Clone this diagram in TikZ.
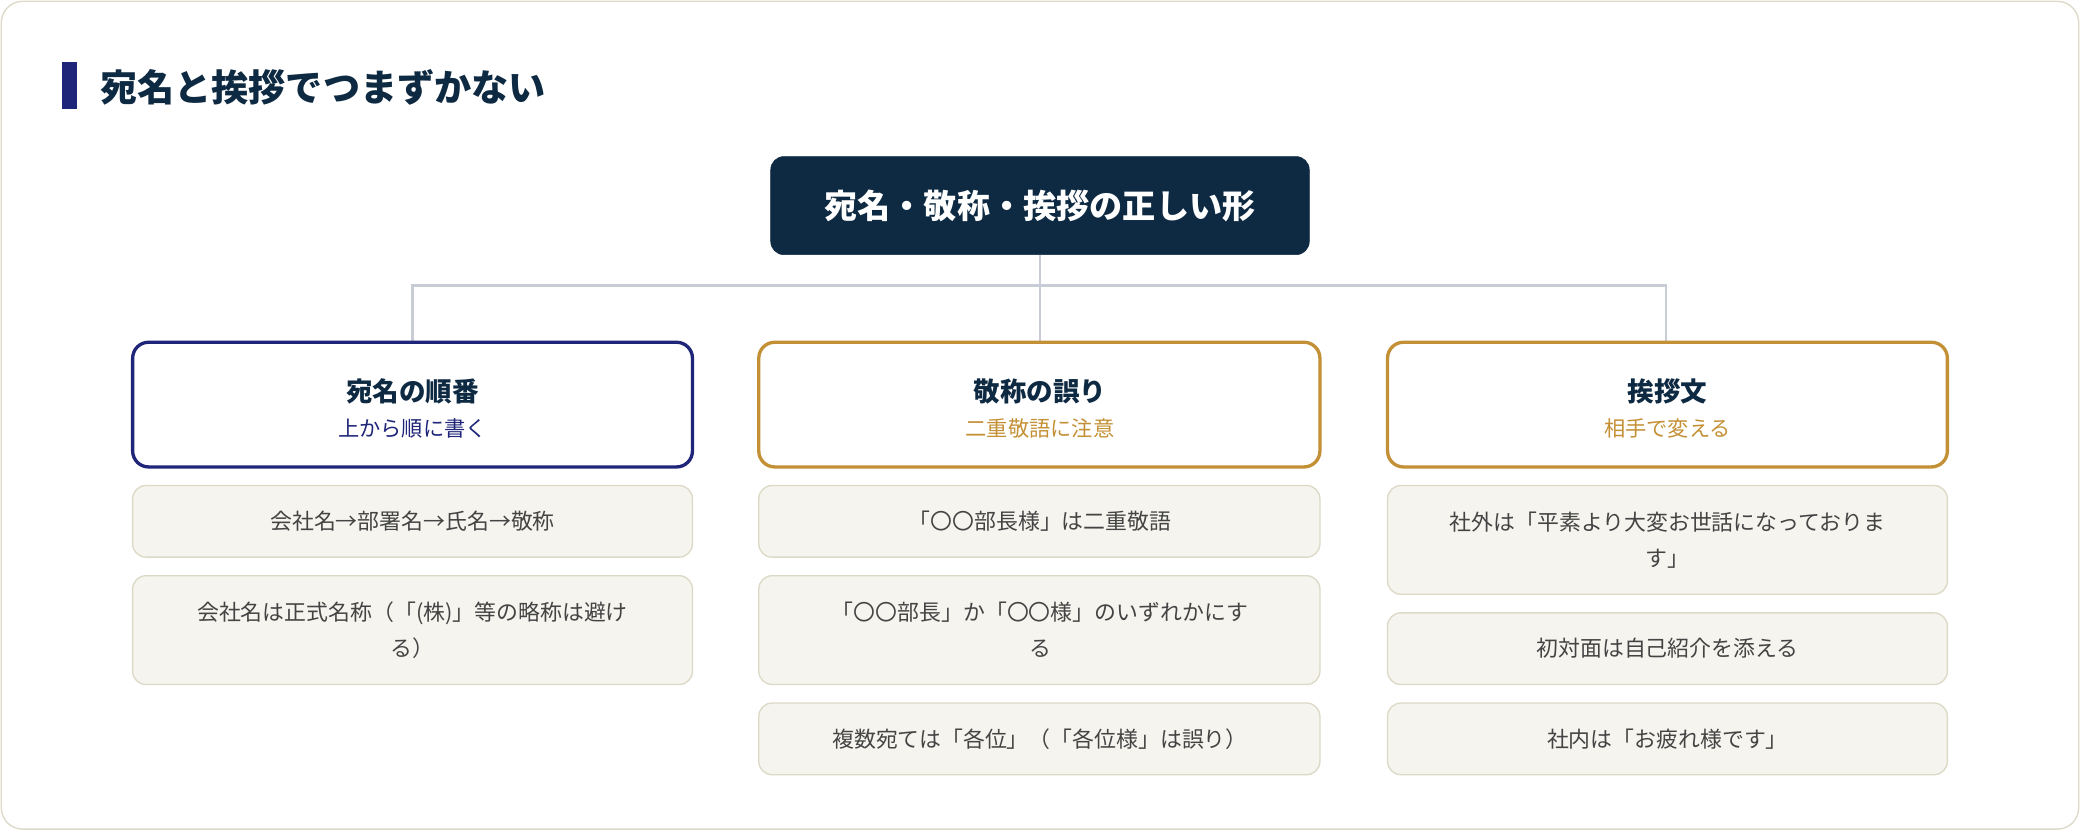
\documentclass[tikz,border=0pt]{standalone}
\usepackage{fontspec}
\setmainfont{Noto Sans CJK JP}
\newfontfamily\jpb{Noto Sans CJK JP}[BoldFont={* Bold}]
\definecolor{navy}{HTML}{1F2578}
\definecolor{dark}{HTML}{0E2A42}
\definecolor{gold}{HTML}{C49035}
\definecolor{itemfill}{HTML}{F5F4EE}
\definecolor{itemline}{HTML}{DCD9C6}
\definecolor{conn}{HTML}{C8CCD4}
\definecolor{txt}{HTML}{444444}
\begin{document}
\begin{tikzpicture}[x=1pt,y=-1pt,
  hdr/.style={draw=#1,line width=2.5pt,rounded corners=12pt,fill=white},
  item/.style={draw=itemline,line width=1pt,rounded corners=10pt,fill=itemfill},
  itxt/.style={text=txt,font=\fontsize{16.5}{27}\selectfont,align=center},
  htit/.style={text=dark,font=\fontsize{20}{24}\selectfont\bfseries},
  hsub/.style={font=\fontsize{16}{20}\selectfont}]
\useasboundingbox (0,0) rectangle (1568,626);
\draw[itemline,line width=1pt,fill=white,rounded corners=16pt] (1,1) rectangle (1567,625);
\fill[navy] (47,47) rectangle (58,82);
\node[anchor=west,text=dark,font=\fontsize{28}{32}\selectfont\bfseries] (title) at (72,66) {宛名と挨拶でつまずかない};
% root
\draw[fill=dark,draw=dark,rounded corners=10pt] (581,118) rectangle (987,192);
\node[text=white,font=\fontsize{25}{30}\selectfont\bfseries] (root) at (784,155) {宛名・敬称・挨拶の正しい形};
\coordinate (rb) at (784,192);
\coordinate (j) at (784,215);
\coordinate (h1) at (311,258);
\coordinate (h2) at (784,258);
\coordinate (h3) at (1256,258);
\draw[conn,line width=2pt] (rb) -- (j);
\draw[conn,line width=2pt] (h1) |- (j) -| (h3);
\draw[conn,line width=2pt] (j) -- (h2);
% headers
\draw[hdr=navy] (100,258) rectangle (522,352);
\node[htit] (t1) at (311,295) {宛名の順番};
\node[hsub,text=navy] (s1) at (311,323) {上から順に書く};
\draw[hdr=gold] (572,258) rectangle (995,352);
\node[htit] (t2) at (784,295) {敬称の誤り};
\node[hsub,text=gold] (s2) at (784,323) {二重敬語に注意};
\draw[hdr=gold] (1046,258) rectangle (1468,352);
\node[htit] (t3) at (1257,295) {挨拶文};
\node[hsub,text=gold] (s3) at (1257,323) {相手で変える};
% col1
\draw[item] (100,366) rectangle (522,420);
\node[itxt] (a1) at (311,393) {会社名→部署名→氏名→敬称};
\draw[item] (100,434) rectangle (522,516);
\node[itxt] (a2) at (311,475) {会社名は正式名称（「(株)」等の略称は避け\\る）};
% col2
\draw[item] (572,366) rectangle (995,420);
\node[itxt] (b1) at (784,393) {「〇〇部長様」は二重敬語};
\draw[item] (572,434) rectangle (995,516);
\node[itxt] (b2) at (784,475) {「〇〇部長」か「〇〇様」のいずれかにす\\る};
\draw[item] (572,530) rectangle (995,584);
\node[itxt] (b3) at (784,557) {複数宛ては「各位」（「各位様」は誤り）};
% col3
\draw[item] (1046,366) rectangle (1468,448);
\node[itxt] (c1) at (1257,407) {社外は「平素より大変お世話になっておりま\\す」};
\draw[item] (1046,462) rectangle (1468,516);
\node[itxt] (c2) at (1257,489) {初対面は自己紹介を添える};
\draw[item] (1046,530) rectangle (1468,584);
\node[itxt] (c3) at (1257,557) {社内は「お疲れ様です」};
\end{tikzpicture}
\end{document}
